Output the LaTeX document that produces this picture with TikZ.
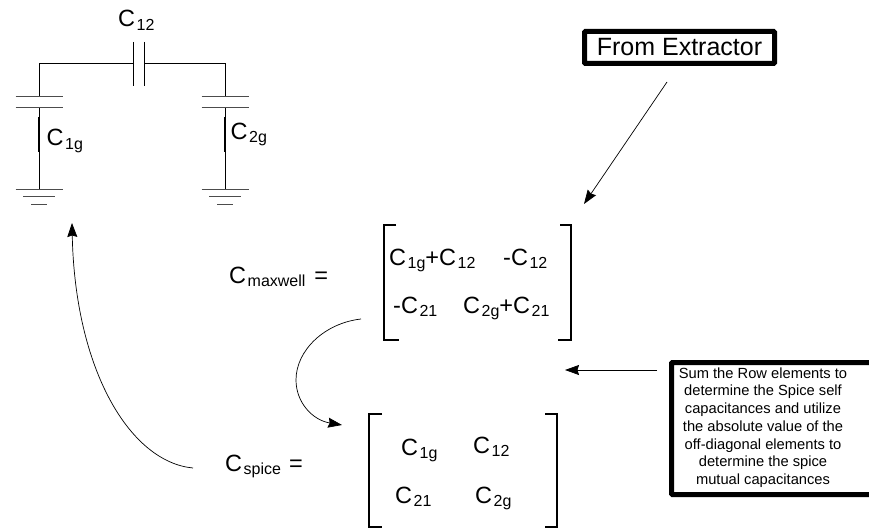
\documentclass[tikz,border=0pt]{standalone}
\usepackage{fontspec}
\setmainfont{Liberation Sans}
\usetikzlibrary{arrows.meta,positioning}

\newcommand{\capname}[1]{C\hspace{1.5pt}\raisebox{-3.5pt}{\fontsize{16}{16}\selectfont #1}}

\tikzset{
    wire/.style={line width=0.8pt},
    plate/.style={line width=1pt, black!70},
    bracket/.style={line width=2.3pt},
    flow/.style={line width=0.7pt, -{Stealth[length=14pt,width=10pt,inset=1.5pt]}},
    label/.style={font=\fontsize{23.5}{26}\selectfont, inner sep=0pt, anchor=base west},
    thickbox/.style={draw, line width=5pt, rounded corners=1pt, inner sep=0pt, outer sep=0pt}
}

\begin{document}
\begin{tikzpicture}[x=1pt,y=-1pt]
    \useasboundingbox (0,0) rectangle (869,529);

    % Circuit
    \coordinate (lefttop) at (39,63);
    \coordinate (righttop) at (225,63);
    \coordinate (leftgnd) at (39,190);
    \coordinate (rightgnd) at (225,190);
    \draw[wire] (39,97) -- (lefttop) -- (133,63);
    \draw[wire] (144,63) -- (righttop) -- (225,97);
    \draw[wire] (39,108) -- (leftgnd);
    \draw[wire] (225,108) -- (rightgnd);
    \draw[wire] (133,42) -- (133,86);
    \draw[wire] (144,42) -- (144,86);
    \foreach \x in {39,225} {
        \draw[plate] (\x-23.5,97) -- (\x+23.5,97);
        \draw[plate] (\x-23.5,108) -- (\x+23.5,108);
        \draw[line width=1.3pt] (\x,117) -- (\x,152);
        \draw[plate] (\x-23.5,190) -- (\x+23.5,190);
        \draw[plate] (\x-16,197) -- (\x+16,197);
        \draw[plate] (\x-8,205) -- (\x+8,205);
    }
    \node[label] (ctwelve) at (118,27) {\capname{12}};
    \node[label] (cleft) at (46.5,146) {\capname{1g}};
    \node[label] (cright) at (230.5,139.5) {\capname{2g}};

    % Maxwell matrix
    \draw[bracket] (396,225) -- (384,225) -- (384,340) -- (399,340);
    \draw[bracket] (560,225) -- (571,225) -- (571,340) -- (558,340);
    \node[label] (maxname) at (229,283) {\capname{maxwell}\hspace{9pt}=};
    \node[label] (mone) at (389,265) {\capname{1g}+\capname{12}};
    \node[label] (mtwo) at (503,265) {-\capname{12}};
    \node[label] (mthree) at (393,313) {-\capname{21}};
    \node[label] (mfour) at (463,313) {\capname{2g}+\capname{21}};

    % Spice matrix
    \draw[bracket] (382,414) -- (369,414) -- (369,527) -- (382,527);
    \draw[bracket] (545,414) -- (557,414) -- (557,527) -- (545,527);
    \node[label] (spicename) at (225,471) {\capname{spice}\hspace{8pt}=};
    \node[label] (sone) at (401,455) {\capname{1g}};
    \node[label] (stwo) at (473,453) {\capname{12}};
    \node[label] (sthree) at (395,503) {\capname{21}};
    \node[label] (sfour) at (475,503) {\capname{2g}};

    % Boxes
    \node[thickbox, minimum width=190, minimum height=32,
        font=\fontsize{25}{28}\selectfont] (extractor) at (679.5,47.5) {From Extractor};
    \node[thickbox, minimum width=210, minimum height=132] (notebox) at (776.5,428.5) {};
    \node[align=center, inner sep=0pt, font=\fontsize{14.7}{17.7}\selectfont] (note) at (763,427.5) {%
        Sum the Row elements to\\
        determine the Spice self\\
        capacitances and utilize\\
        the absolute value of the\\
        off-diagonal elements to\\
        determine the spice\\
        mutual capacitances};

    % Arrows
    \coordinate (extail) at (667,82);
    \coordinate (exhead) at (584,204);
    \coordinate (notetail) at (657,370);
    \coordinate (notehead) at (565,370);
    \coordinate (curvetail) at (361,319);
    \coordinate (curvemid) at (296,380);
    \coordinate (curvehead) at (342,425);
    \coordinate (backtail) at (193,468);
    \coordinate (backhead) at (72,223);
    \draw[flow] (extail) -- (exhead);
    \draw[flow] (notetail) -- (notehead);
    \draw[flow] (curvetail) .. controls (325,323) and (296,350) .. (curvemid)
        .. controls (296,402) and (312,420) .. (curvehead);
    \draw[flow] (backtail) .. controls (130,462) and (75,370) .. (backhead);
\end{tikzpicture}
\end{document}
